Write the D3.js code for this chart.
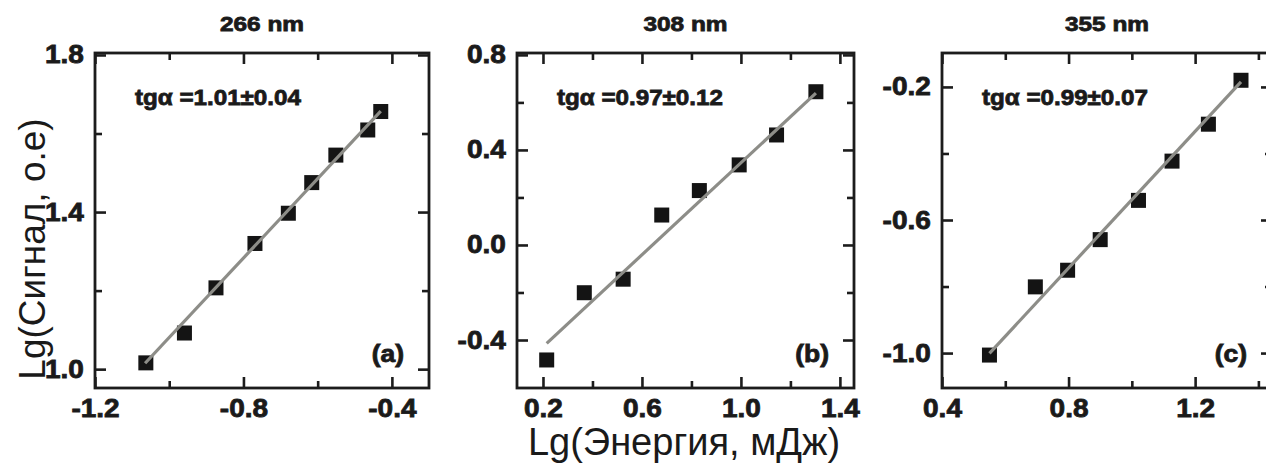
<!DOCTYPE html>
<html>
<head>
<meta charset="utf-8">
<script src="https://cdn.jsdelivr.net/npm/d3@7"></script>
<style>
  body { margin: 0; background: #fff; }
  svg { display: block; }
  text { font-family: "Liberation Sans", Arial, sans-serif; fill: #1a1a1a; }
</style>
</head>
<body>
<svg width="1266" height="468"></svg>
<script>
// titles and annotations
var titles = ["266 nm", "308 nm", "355 nm"];
var slopes = ["tgα =1.01±0.04", "tgα =0.97±0.12", "tgα =0.99±0.07"];
var tags = ["(a)", "(b)", "(c)"];
var xTitle = "Lg(Энергия, мДж)";
var yTitle = "Lg(Сигнал, о.е)";

var xA = [-1.063, -0.959, -0.874, -0.769, -0.679, -0.616, -0.551, -0.465, -0.430];
var yA = [1.016, 1.092, 1.207, 1.320, 1.397, 1.475, 1.545, 1.609, 1.656];
var xB = [0.215, 0.367, 0.524, 0.680, 0.832, 0.993, 1.144, 1.303];
var yB = [-0.484, -0.201, -0.144, 0.126, 0.229, 0.337, 0.463, 0.645];
var xC = [0.550, 0.695, 0.797, 0.900, 1.021, 1.127, 1.242, 1.345];
var yC = [-1.006, -0.801, -0.751, -0.659, -0.541, -0.423, -0.312, -0.180];

// fitted lines (end points)
var fitA = [[-1.065, 1.015], [-0.430, 1.657]];
var fitB = [[0.215, -0.414], [1.303, 0.639]];
var fitC = [[0.550, -1.001], [1.345, -0.185]];

// ticks and tick labels
var xTicksA = [-1.2, -1.0, -0.8, -0.6, -0.4], xLabelsA = [-1.2, -0.8, -0.4];
var yTicksA = [1.0, 1.2, 1.4, 1.6, 1.8], yLabelsA = [1.0, 1.4, 1.8];
var xTicksB = [0.2, 0.4, 0.6, 0.8, 1.0, 1.2, 1.4], xLabelsB = [0.2, 0.6, 1.0, 1.4];
var yTicksB = [-0.4, -0.2, 0.0, 0.2, 0.4, 0.6, 0.8], yLabelsB = [-0.4, 0.0, 0.4, 0.8];
var xTicksC = [0.4, 0.6, 0.8, 1.0, 1.2, 1.4], xLabelsC = [0.4, 0.8, 1.2];
var yTicksC = [-1.0, -0.8, -0.6, -0.4, -0.2], yLabelsC = [-1.0, -0.6, -0.2];

var svg = d3.select("svg"),
    top0 = 53, bottom0 = 388,
    ink = "#1c1c1c";

var panels = [
  {left: 95, right: 429, xDom: [-1.2, -0.3], yDom: [0.952, 1.805], xs: xA, ys: yA, fit: fitA,
   xTicks: xTicksA, xLabels: xLabelsA, yTicks: yTicksA, yLabels: yLabelsA},
  {left: 517, right: 854, xDom: [0.095, 1.457], yDom: [-0.602, 0.808], xs: xB, ys: yB, fit: fitB,
   xTicks: xTicksB, xLabels: xLabelsB, yTicks: yTicksB, yLabels: yLabelsB},
  {left: 942, right: 1272, xDom: [0.4, 1.443], yDom: [-1.105, -0.098], xs: xC, ys: yC, fit: fitC,
   xTicks: xTicksC, xLabels: xLabelsC, yTicks: yTicksC, yLabels: yLabelsC}
];

function isIn(v, arr) {
  return arr.some(function(a) { return Math.abs(a - v) < 1e-9; });
}

// heavy bold text, slightly stretched like in the source
function wideText(g, x, y, txt, size, sx, anchor) {
  return g.append("text")
      .attr("transform", "translate(" + x + "," + y + ") scale(" + sx + ",1)")
      .attr("text-anchor", anchor)
      .attr("font-size", size)
      .attr("font-weight", "bold")
      .attr("stroke", ink)
      .attr("stroke-width", 0.8)
      .text(txt);
}

function tickGroup(g, axis, tr, len) {
  g.append("g")
      .attr("transform", tr)
      .call(axis.tickSize(-len).tickFormat(""))
      .call(function(s) { s.select(".domain").remove(); })
      .selectAll("line")
      .attr("stroke", ink)
      .attr("stroke-width", 2.6);
}

panels.forEach(function(p, i) {
  var g = svg.append("g");
  var x = d3.scaleLinear().domain(p.xDom).range([p.left, p.right]);
  var y = d3.scaleLinear().domain(p.yDom).range([bottom0, top0]);

  var xMajor = p.xTicks.filter(function(v) { return isIn(v, p.xLabels); }),
      xMinor = p.xTicks.filter(function(v) { return !isIn(v, p.xLabels); }),
      yMajor = p.yTicks.filter(function(v) { return isIn(v, p.yLabels); }),
      yMinor = p.yTicks.filter(function(v) { return !isIn(v, p.yLabels); });

  // markers
  g.append("g")
    .selectAll("rect")
    .data(p.xs.map(function(v, k) { return [v, p.ys[k]]; }))
    .enter().append("rect")
      .attr("x", function(d) { return x(d[0]) - 7.5; })
      .attr("y", function(d) { return y(d[1]) - 7.5; })
      .attr("width", 15)
      .attr("height", 15)
      .attr("fill", "#141414");

  // fit line
  g.append("path")
      .datum(p.fit)
      .attr("fill", "none")
      .attr("stroke", "#8d8d88")
      .attr("stroke-width", 3.2)
      .attr("d", d3.line()
          .x(function(d) { return x(d[0]); })
          .y(function(d) { return y(d[1]); }));

  // inward ticks on all four sides
  [[xMajor, 11], [xMinor, 7]].forEach(function(t) {
    tickGroup(g, d3.axisBottom(x).tickValues(t[0]), "translate(0," + bottom0 + ")", t[1]);
    tickGroup(g, d3.axisTop(x).tickValues(t[0]), "translate(0," + top0 + ")", t[1]);
  });
  [[yMajor, 11], [yMinor, 7]].forEach(function(t) {
    tickGroup(g, d3.axisLeft(y).tickValues(t[0]), "translate(" + p.left + ",0)", t[1]);
    tickGroup(g, d3.axisRight(y).tickValues(t[0]), "translate(" + p.right + ",0)", t[1]);
  });

  // frame
  g.append("rect")
      .attr("x", p.left)
      .attr("y", top0)
      .attr("width", p.right - p.left)
      .attr("height", bottom0 - top0)
      .attr("fill", "none")
      .attr("stroke", ink)
      .attr("stroke-width", 2.8);

  // tick labels
  var fmt = function(d) { return d.toFixed(1); };
  var xl = g.append("g")
      .attr("transform", "translate(0," + bottom0 + ")")
      .call(d3.axisBottom(x).tickValues(p.xLabels).tickSize(0).tickPadding(11).tickFormat(fmt));
  var yl = g.append("g")
      .attr("transform", "translate(" + p.left + ",0)")
      .call(d3.axisLeft(y).tickValues(p.yLabels).tickSize(0).tickPadding(10).tickFormat(fmt));
  [xl, yl].forEach(function(a) {
    a.select(".domain").remove();
    a.attr("font-family", null).attr("font-size", null);
    a.selectAll("text")
        .attr("font-size", 25)
        .attr("font-weight", "bold")
        .attr("fill", ink)
        .attr("stroke", ink)
        .attr("stroke-width", 0.8)
        .attr("transform", "scale(1.12,1)");
  });

  var cx = (p.left + p.right) / 2;
  wideText(g, cx, 31, titles[i], 20, 1.22, "middle");
  wideText(g, p.left + 40, 105, slopes[i], 22, 1.1, "start");
  wideText(g, p.right - 25, 362, tags[i], 23, 1.15, "end");
});

// axis titles
svg.append("text")
    .attr("x", 684)
    .attr("y", 455)
    .attr("text-anchor", "middle")
    .attr("font-size", 38)
    .text(xTitle);

svg.append("text")
    .attr("transform", "translate(45,249) rotate(-90)")
    .attr("text-anchor", "middle")
    .attr("font-size", 37)
    .text(yTitle);
</script>
</body>
</html>
